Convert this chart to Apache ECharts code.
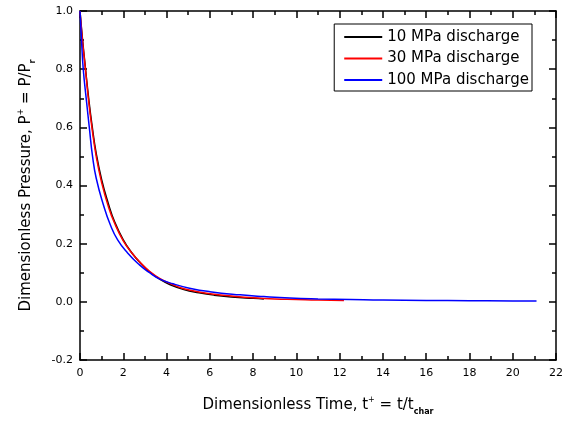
<!DOCTYPE html>
<html>
<head>
<meta charset="utf-8">
<script src="https://cdn.jsdelivr.net/npm/echarts@6/dist/echarts.min.js"></script>
<style>html,body{margin:0;padding:0;background:#fff}#c{width:566px;height:426px}</style>
</head>
<body>
<div id="c"></div>
<script>
var seriesNames = ['10 MPa discharge', '30 MPa discharge', '100 MPa discharge'];
var t10 = [0, 0.1, 0.25, 0.4, 0.55, 0.75, 1.0, 1.3, 1.6, 2.0, 2.4, 2.8, 3.2, 3.7, 4.2, 4.8, 5.5, 6.2, 7.0, 8.0, 8.5];
var p10 = [1.0, 0.915, 0.805, 0.70, 0.61, 0.51, 0.42, 0.34, 0.275, 0.213, 0.168, 0.133, 0.104, 0.077, 0.058, 0.042, 0.031, 0.023, 0.017, 0.012, 0.010];
var t30 = [0, 0.1, 0.25, 0.4, 0.55, 0.75, 1.0, 1.3, 1.6, 2.0, 2.4, 2.8, 3.2, 3.7, 4.2, 4.8, 5.5, 6.2, 7.0, 8.0, 9.0, 10.0, 11.0, 12.2];
var p30 = [1.0, 0.91, 0.80, 0.69, 0.60, 0.50, 0.41, 0.33, 0.27, 0.21, 0.168, 0.134, 0.106, 0.080, 0.062, 0.045, 0.034, 0.026, 0.020, 0.014, 0.010, 0.008, 0.006, 0.005];
var t100 = [0, 0.07, 0.15, 0.3, 0.43, 0.58, 0.75, 1.08, 1.4, 1.74, 2.2, 2.75, 3.2, 3.67, 4.3, 5.06, 6.0, 7.4, 8.5, 9.7, 11, 12.5, 14, 16, 18, 20, 21.1];
var p100 = [1.0, 0.90, 0.80, 0.69, 0.60, 0.50, 0.425, 0.334, 0.265, 0.213, 0.168, 0.127, 0.101, 0.079, 0.062, 0.047, 0.035, 0.024, 0.018, 0.013, 0.010, 0.008, 0.006, 0.005, 0.004, 0.003, 0.003];
var colors = ['#000000', '#ff0000', '#0000ff'];

function pairs(t, p) { return t.map(function (v, i) { return [v, p[i]]; }); }
var dataSets = [pairs(t10, p10), pairs(t30, p30), pairs(t100, p100)];

var font = '"DejaVu Sans", "Liberation Sans", Arial, sans-serif';
var axLine = { onZero: false, lineStyle: { color: '#000', width: 1.5 } };
var tickX = { show: true, inside: true, length: 7, lineStyle: { color: '#000', width: 1.5 } };
var minor = { show: true, splitNumber: 2, length: 4, lineStyle: { color: '#000', width: 1.5 } };
var richTitle = {
  n: { fontFamily: font, fontSize: 15, color: '#000', lineHeight: 22 },
  sup: { fontFamily: font, fontSize: 8, color: '#000', verticalAlign: 'top', lineHeight: 22, padding: [2, 0, 0, 0] },
  sub: { fontFamily: font, fontSize: 8, fontWeight: 'bold', color: '#000', verticalAlign: 'bottom', lineHeight: 22 }
};

var chart = echarts.init(document.getElementById('c'));
chart.setOption({
  animation: false,
  backgroundColor: '#fff',
  grid: { left: 80, right: 10, top: 11, bottom: 66, containLabel: false },
  legend: {
    orient: 'vertical',
    right: 34, top: 24,
    data: seriesNames,
    icon: 'rect',
    itemWidth: 38, itemHeight: 2, itemGap: 5.5,
    padding: [5, 3, 3, 10],
    borderColor: '#000', borderWidth: 1, borderRadius: 0,
    backgroundColor: '#fff',
    textStyle: { fontFamily: font, fontSize: 15, lineHeight: 16, color: '#000' }
  },
  xAxis: [{
    type: 'value', position: 'bottom', min: 0, max: 22, interval: 2,
    axisLine: axLine, axisTick: tickX, minorTick: minor, splitLine: { show: false },
    axisLabel: { fontFamily: font, fontSize: 11, color: '#000', margin: 8 },
    name: '{n|Dimensionless Time, t}{sup|+}{n| = t/t}{sub|char}',
    nameLocation: 'middle', nameGap: 34,
    nameTextStyle: { fontFamily: font, fontSize: 15, color: '#000', rich: richTitle }
  }, {
    type: 'value', position: 'top', min: 0, max: 22, interval: 2,
    axisLine: axLine, axisTick: tickX, minorTick: minor, splitLine: { show: false },
    axisLabel: { show: false }
  }],
  yAxis: [{
    type: 'value', position: 'left', min: -0.2, max: 1.0, interval: 0.2,
    axisLine: axLine, axisTick: tickX, minorTick: minor, splitLine: { show: false },
    axisLabel: { fontFamily: font, fontSize: 11, color: '#000', margin: 7,
      formatter: function (v) { return v.toFixed(1); } },
    name: '{n|Dimensionless Pressure, P}{sup|+}{n| = P/P}{sub|r}',
    nameLocation: 'middle', nameGap: 43, nameRotate: 90,
    nameTextStyle: { fontFamily: font, fontSize: 15, color: '#000', rich: richTitle }
  }, {
    type: 'value', position: 'right', min: -0.2, max: 1.0, interval: 0.2,
    axisLine: axLine, axisTick: tickX, minorTick: minor, splitLine: { show: false },
    axisLabel: { show: false }
  }],
  series: seriesNames.map(function (n, i) {
    return {
      name: n, type: 'line', xAxisIndex: 0, yAxisIndex: 0,
      data: dataSets[i], smooth: 0.5, symbol: 'none', showSymbol: false,
      lineStyle: { color: colors[i], width: 1.5 }, itemStyle: { color: colors[i] }
    };
  })
});
</script>
</body>
</html>
